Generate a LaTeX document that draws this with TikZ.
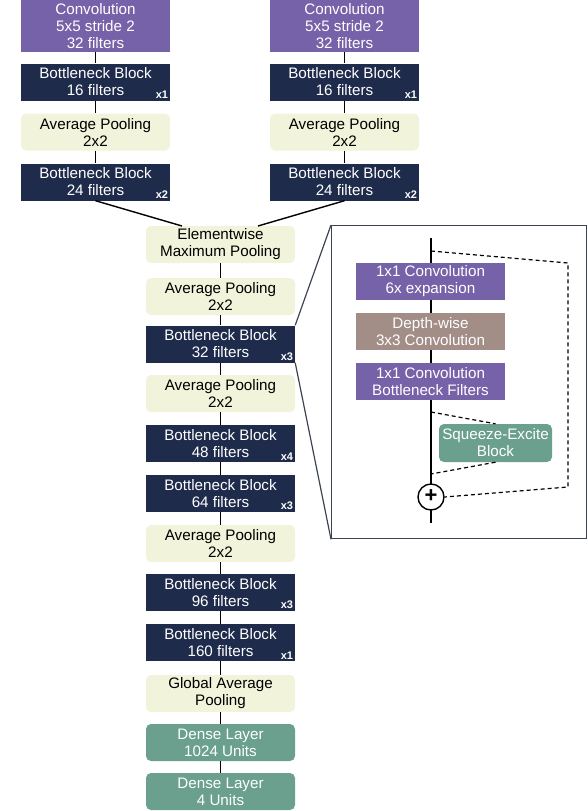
\documentclass[tikz,border=0pt]{standalone}
\usepackage{fontspec}
\setmainfont{Liberation Sans}
\usetikzlibrary{calc}
\definecolor{convpurple}{HTML}{7662A8}
\definecolor{bnavy}{HTML}{1F2B4B}
\definecolor{poolyellow}{HTML}{F1F3DA}
\definecolor{denseteal}{HTML}{6AA08D}
\definecolor{dwbrown}{HTML}{A38D87}
\definecolor{framegrey}{HTML}{3C4452}
\tikzset{
  base/.style={minimum width=149pt, minimum height=37pt, inner sep=0pt, align=center,
    font=\fontsize{15.2}{17}\selectfont},
  conv/.style={base, fill=convpurple, text=white},
  bottle/.style={base, fill=bnavy, text=white},
  pool/.style={base, fill=poolyellow, text=black, rounded corners=5pt},
  dense/.style={base, fill=denseteal, text=white, rounded corners=5pt},
  dwconv/.style={base, fill=dwbrown, text=white},
  rep/.style={anchor=south east, inner sep=0pt, text=white, font=\fontsize{11}{11}\selectfont\bfseries},
  link/.style={draw=black, line width=1.4pt},
  skip/.style={draw=black, line width=1.2pt, dash pattern=on 4pt off 3pt},
}
\begin{document}
\begin{tikzpicture}[x=1pt,y=-1pt]
\useasboundingbox (0,0) rectangle (587,811);
% ---------- left branch ----------
\node[conv, minimum height=52pt] (cl) at (95.5,26) {Convolution\\5x5 stride 2\\32 filters};
\node[bottle] (b16l) at (95.5,82) {Bottleneck Block\\16 filters};
\node[pool] (apl) at (95.5,132) {Average Pooling\\2x2};
\node[bottle] (b24l) at (95.5,182) {Bottleneck Block\\24 filters};
% ---------- right branch ----------
\node[conv, minimum height=52pt] (cr) at (344.5,26) {Convolution\\5x5 stride 2\\32 filters};
\node[bottle] (b16r) at (344.5,82) {Bottleneck Block\\16 filters};
\node[pool] (apr) at (344.5,132) {Average Pooling\\2x2};
\node[bottle] (b24r) at (344.5,182) {Bottleneck Block\\24 filters};
% ---------- trunk ----------
\node[pool] (emp) at (220.5,244.5) {Elementwise\\Maximum Pooling};
\node[pool] (ap1) at (220.5,296.5) {Average Pooling\\2x2};
\node[bottle] (b32) at (220.5,344) {Bottleneck Block\\32 filters};
\node[pool] (ap2) at (220.5,393.5) {Average Pooling\\2x2};
\node[bottle] (b48) at (220.5,443.5) {Bottleneck Block\\48 filters};
\node[bottle] (b64) at (220.5,493.5) {Bottleneck Block\\64 filters};
\node[pool] (ap3) at (220.5,543.5) {Average Pooling\\2x2};
\node[bottle] (b96) at (220.5,592.5) {Bottleneck Block\\96 filters};
\node[bottle] (b160) at (220.5,642.5) {Bottleneck Block\\160 filters};
\node[pool] (gap) at (220.5,693.5) {Global Average\\Pooling};
\node[dense] (d1) at (220.5,742.5) {Dense Layer\\1024 Units};
\node[dense] (d2) at (220.5,791.5) {Dense Layer\\4 Units};
% repetition labels
\node[rep] (r1) at ($(b16l.south east)+(-2,-2)$) {x1};
\node[rep] (r2) at ($(b24l.south east)+(-2,-2)$) {x2};
\node[rep] (r3) at ($(b16r.south east)+(-2,-2)$) {x1};
\node[rep] (r4) at ($(b24r.south east)+(-2,-2)$) {x2};
\node[rep] (r5) at ($(b32.south east)+(-2,-2)$) {x3};
\node[rep] (r6) at ($(b48.south east)+(-2,-2)$) {x4};
\node[rep] (r7) at ($(b64.south east)+(-2,-2)$) {x3};
\node[rep] (r8) at ($(b96.south east)+(-2,-2)$) {x3};
\node[rep] (r9) at ($(b160.south east)+(-2,-2)$) {x1};
% connectors
\draw[link] (cl) -- (b16l);
\draw[link] (b16l) -- (apl);
\draw[link] (apl) -- (b24l);
\draw[link] (cr) -- (b16r);
\draw[link] (b16r) -- (apr);
\draw[link] (apr) -- (b24r);
\coordinate (eml) at (182,226);
\coordinate (emr) at (258,226);
\draw[link] (b24l.south) -- (eml);
\draw[link] (b24r.south) -- (emr);
\draw[link] (emp) -- (ap1);
\draw[link] (ap1) -- (b32);
\draw[link] (b32) -- (ap2);
\draw[link] (ap2) -- (b48);
\draw[link] (b48) -- (b64);
\draw[link] (b64) -- (ap3);
\draw[link] (ap3) -- (b96);
\draw[link] (b96) -- (b160);
\draw[link] (b160) -- (gap);
\draw[link] (gap) -- (d1);
\draw[link] (d1) -- (d2);
% ---------- inset ----------
\node[draw=framegrey, line width=1.3pt, minimum width=255pt, minimum height=313pt, inner sep=0pt, anchor=north west] (inset) at (331,225) {};
\draw[framegrey, line width=1.2pt] (b32.north east) -- (inset.north west);
\draw[framegrey, line width=1.2pt] (b32.south east) -- (inset.south west);
\coordinate (ltop) at (431,238);
\coordinate (lbot) at (431,523);
\draw[link] (ltop) -- (lbot);
\node[conv] (c1) at (430.5,281.5) {1x1 Convolution\\6x expansion};
\node[dwconv] (dw) at (430.5,331.5) {Depth-wise\\3x3 Convolution};
\node[conv] (c2) at (430.5,381.5) {1x1 Convolution\\Bottleneck Filters};
\node[dense, minimum width=113pt, minimum height=38pt] (se) at (495.5,443) {Squeeze-Excite\\Block};
\node[draw=black, fill=white, line width=1.4pt, circle, minimum size=26pt, inner sep=0pt,
  font=\fontsize{22}{22}\selectfont\bfseries] (plus) at (431,497) {\raisebox{1pt}{+}};
\coordinate (sk1) at (431,251);
\coordinate (sk2) at (568,263);
\coordinate (sk3) at (568,487);
\draw[skip] (sk1) -- (sk2) -- (sk3) -- (plus.east);
\coordinate (se1) at (431,412);
\coordinate (se2) at (431,474);
\draw[skip] (se1) -- (se.north);
\draw[skip] (se.south) -- (se2);
\end{tikzpicture}
\end{document}
